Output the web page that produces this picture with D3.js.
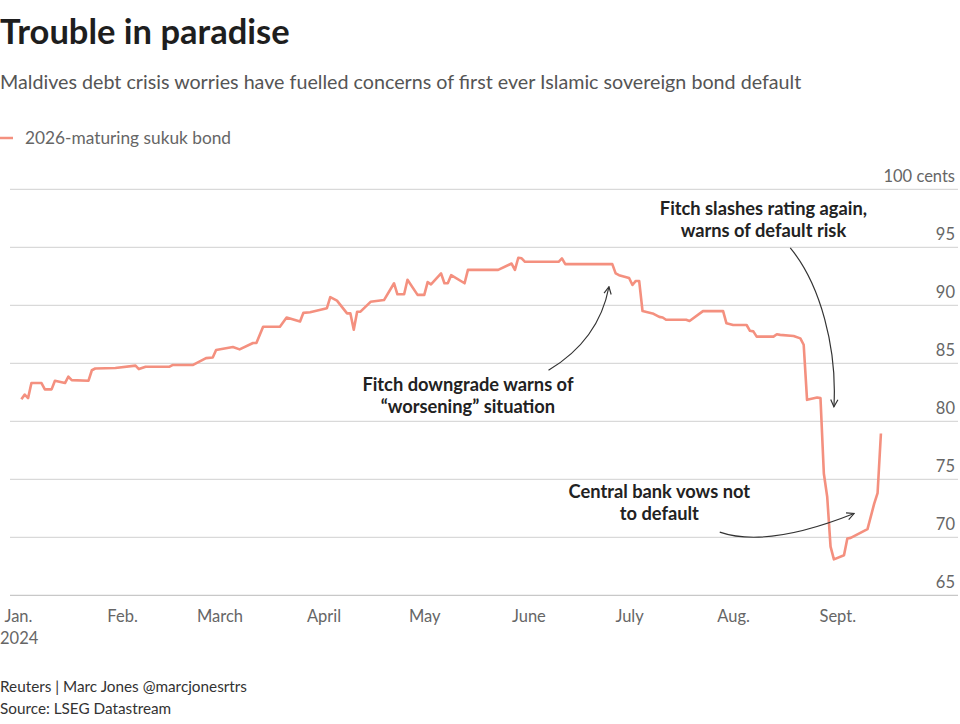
<!DOCTYPE html>
<html>
<head>
<meta charset="utf-8">
<script src="https://cdn.jsdelivr.net/npm/d3@7"></script>
<style>
  html, body { margin: 0; padding: 0; background: #fff; }
  svg { display: block; }
  text { font-family: Lato, "Open Sans", sans-serif; }
</style>
</head>
<body>
<div id="chart"></div>
<script>
// ---------------- DATA ----------------
const seriesName = "2026-maturing sukuk bond";
const dates = [
  "2024-01-02","2024-01-03","2024-01-04","2024-01-05","2024-01-08","2024-01-09","2024-01-11","2024-01-12",
  "2024-01-15","2024-01-16","2024-01-17","2024-01-22","2024-01-23","2024-01-24","2024-01-30","2024-02-05",
  "2024-02-06","2024-02-08","2024-02-15","2024-02-16","2024-02-22","2024-02-23","2024-02-26","2024-02-28",
  "2024-02-29","2024-03-05","2024-03-07","2024-03-11","2024-03-12","2024-03-14","2024-03-19","2024-03-21",
  "2024-03-25","2024-03-26","2024-03-28","2024-04-02","2024-04-03","2024-04-05","2024-04-08","2024-04-09",
  "2024-04-10","2024-04-11","2024-04-12","2024-04-15","2024-04-19","2024-04-22","2024-04-23","2024-04-25",
  "2024-04-26","2024-04-29","2024-05-01","2024-05-02","2024-05-03","2024-05-06","2024-05-07","2024-05-08",
  "2024-05-09","2024-05-13","2024-05-14","2024-05-23","2024-05-27","2024-05-28","2024-05-29","2024-05-30",
  "2024-05-31","2024-06-10","2024-06-11","2024-06-12","2024-06-26","2024-06-27","2024-06-28","2024-07-01",
  "2024-07-02","2024-07-03","2024-07-04","2024-07-05","2024-07-08","2024-07-10","2024-07-11","2024-07-12",
  "2024-07-18","2024-07-19","2024-07-23","2024-07-29","2024-07-30","2024-08-01","2024-08-05","2024-08-06",
  "2024-08-07","2024-08-08","2024-08-13","2024-08-14","2024-08-15","2024-08-19","2024-08-21","2024-08-22",
  "2024-08-23","2024-08-26","2024-08-27","2024-08-28","2024-08-29","2024-08-30","2024-08-31","2024-09-03",
  "2024-09-04","2024-09-05","2024-09-10","2024-09-12","2024-09-13","2024-09-14"
];
const prices = [
  81.9, 82.3, 82.0, 83.3, 83.3, 82.75, 82.75, 83.5,
  83.3, 83.85, 83.55, 83.5, 84.4, 84.55, 84.6, 84.8,
  84.5, 84.7, 84.7, 84.85, 84.85, 85.0, 85.45, 85.5,
  86.15, 86.4, 86.2, 86.75, 86.75, 88.15, 88.15, 88.95,
  88.6, 89.35, 89.4, 89.75, 90.7, 90.4, 89.3, 89.3,
  87.9, 89.45, 89.45, 90.3, 90.45, 91.9, 90.95, 90.95,
  92.2, 90.9, 90.9, 92.0, 91.8, 92.75, 91.9, 91.9,
  92.6, 91.9, 93.05, 93.05, 93.6, 93.05, 94.1, 94.05,
  93.75, 93.75, 94.05, 93.55, 93.55, 92.75, 92.6, 92.35,
  91.75, 92.1, 92.1, 89.5, 89.3, 89.0, 88.95, 88.75,
  88.75, 88.65, 89.5, 89.5, 88.45, 88.3, 88.3, 87.8,
  87.75, 87.3, 87.3, 87.5, 87.45, 87.35, 87.15, 86.6,
  81.85, 82.05, 82.0, 75.5, 73.5, 69.2, 68.1, 68.45,
  69.9, 69.95, 70.7, 72.9, 73.8, 78.95
];
const yTicks = [65, 70, 75, 80, 85, 90, 95, 100];
const yUnit = "cents";
const monthStarts = ["2024-01-01","2024-02-01","2024-03-01","2024-04-01","2024-05-01","2024-06-01","2024-07-01","2024-08-01","2024-09-01"];
const monthLabels = ["Jan.","Feb.","March","April","May","June","July","Aug.","Sept."];
const yearLabel = "2024";

// annotations anchored in data space (date, value)
const annotations = [
  { lines: ["Fitch downgrade warns of", "\u201Cworsening\u201D situation"], date: "2024-05-14", value: 82.6,
    arrow: { type: "q", pts: [["2024-06-07", 84.4], ["2024-06-22", 87.0], ["2024-06-25", 91.6]] } },
  { lines: ["Fitch slashes rating again,", "warns of default risk"], date: "2024-08-10", value: 97.75,
    arrow: { type: "c", pts: [["2024-08-18", 94.95], ["2024-08-27", 91.8], ["2024-09-01", 86.3], ["2024-08-31", 81.25]] } },
  { lines: ["Central bank vows not", "to default"], date: "2024-07-10", value: 73.4,
    arrow: { type: "q", pts: [["2024-07-28", 70.45], ["2024-08-11", 69.05], ["2024-09-06", 72.05]] } }
];

// ---------------- CHART ----------------
const W = 960, H = 724;
const parse = d3.timeParse("%Y-%m-%d");
const data = dates.map((d, i) => ({ date: parse(d), value: prices[i] }));

const x = d3.scaleTime()
  .domain([parse("2024-01-01"), parse("2024-10-01")])
  .range([18, 938]);
const y = d3.scaleLinear().domain([65, 100]).range([595.3, 189.3]);

const gridLeft = 10, gridRight = 958;

const svg = d3.select("#chart").append("svg")
  .attr("width", W).attr("height", H);

// Title / subtitle
svg.append("text").attr("x", 0).attr("y", 44)
  .attr("font-size", 34.5).attr("font-weight", 700).attr("fill", "#1e1e1e")
  .text("Trouble in paradise");
svg.append("text").attr("x", 0).attr("y", 89)
  .attr("font-size", 19.7).attr("fill", "#555")
  .text("Maldives debt crisis worries have fuelled concerns of first ever Islamic sovereign bond default");

// Legend
svg.append("line").attr("x1", 0).attr("x2", 13).attr("y1", 138).attr("y2", 138)
  .attr("stroke", "#f4907f").attr("stroke-width", 2.5);
svg.append("text").attr("x", 25).attr("y", 144)
  .attr("font-size", 17.3).attr("fill", "#666").text(seriesName);

// Gridlines + y labels
const grid = svg.append("g");
grid.selectAll("line").data(yTicks).join("line")
  .attr("x1", gridLeft).attr("x2", gridRight)
  .attr("y1", d => y(d)).attr("y2", d => y(d))
  .attr("stroke", d => d === 65 ? "#bbb" : "#d0d0d0").attr("stroke-width", 1);
grid.selectAll("text").data(yTicks).join("text")
  .attr("x", 955).attr("y", d => y(d) - 7)
  .attr("text-anchor", "end").attr("font-size", 16.5).attr("fill", "#666")
  .text(d => d === 100 ? d + " " + yUnit : d);

// X axis
const xAxis = d3.axisBottom(x)
  .tickValues(monthStarts.map(parse))
  .tickFormat((d, i) => monthLabels[i])
  .tickSize(0).tickPadding(0);
const gx = svg.append("g").attr("transform", "translate(0,621.5)").call(xAxis);
gx.select(".domain").remove();
gx.selectAll("text").attr("font-size", 16.5).attr("fill", "#666")
  .attr("font-family", "Lato, 'Open Sans', sans-serif").attr("dy", 0).attr("y", 0);
svg.append("text").attr("x", 0).attr("y", 644)
  .attr("font-size", 16.5).attr("fill", "#666").text(yearLabel);

// Line
const line = d3.line().x(d => x(d.date)).y(d => y(d.value)).curve(d3.curveLinear);
svg.append("path").datum(data)
  .attr("d", line)
  .attr("fill", "none").attr("stroke", "#f4907f")
  .attr("stroke-width", 2.6).attr("stroke-linejoin", "round");

// Arrow marker
const defs = svg.append("defs");
defs.append("marker").attr("id", "arrowhead")
  .attr("viewBox", "0 0 10 10").attr("refX", 9).attr("refY", 5)
  .attr("markerWidth", 9).attr("markerHeight", 9)
  .attr("markerUnits", "userSpaceOnUse").attr("orient", "auto")
  .append("path").attr("d", "M1,1 L9,5 L1,9")
  .attr("fill", "none").attr("stroke", "#333").attr("stroke-width", 1.3);

// Annotations
annotations.forEach(a => {
  const cx = x(parse(a.date)), cy = y(a.value);
  const t = svg.append("text").attr("text-anchor", "middle")
    .attr("font-size", 18.3).attr("font-weight", 700).attr("fill", "#222");
  a.lines.forEach((l, i) => {
    t.append("tspan").attr("x", cx).attr("y", cy + i * 22).text(l);
  });
  const p = a.arrow.pts.map(([d, v]) => [x(parse(d)), y(v)]);
  const path = d3.path();
  path.moveTo(p[0][0], p[0][1]);
  if (a.arrow.type === "q") path.quadraticCurveTo(p[1][0], p[1][1], p[2][0], p[2][1]);
  else path.bezierCurveTo(p[1][0], p[1][1], p[2][0], p[2][1], p[3][0], p[3][1]);
  svg.append("path").attr("d", path.toString())
    .attr("fill", "none").attr("stroke", "#333").attr("stroke-width", 1.2)
    .attr("marker-end", "url(#arrowhead)");
});

// Footer
svg.append("text").attr("x", 0).attr("y", 691.5)
  .attr("font-size", 15.3).attr("fill", "#333").text("Reuters | Marc Jones @marcjonesrtrs");
svg.append("text").attr("x", 0).attr("y", 714)
  .attr("font-size", 15.3).attr("fill", "#333").text("Source: LSEG Datastream");
</script>
</body>
</html>
